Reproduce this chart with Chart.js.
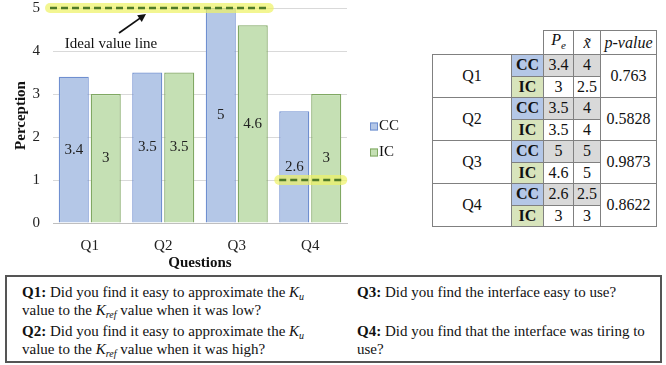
<!DOCTYPE html>
<html>
<head>
<meta charset="utf-8">
<script src="https://cdn.jsdelivr.net/npm/chart.js@4.4.1/dist/chart.umd.min.js"></script>
<style>
  body { margin: 0; background: #fff; font-family: "Liberation Serif", "Times New Roman", serif; color: #111; }
  #wrap { position: relative; width: 666px; height: 365px; overflow: hidden; }
  #perception-chart { position: absolute; left: 0; top: -14px; }
  #stats { position: absolute; left: 432px; top: 30px; border-collapse: collapse; font-size: 16px; table-layout: fixed; }
  #stats td { border: 1px solid #808080; text-align: center; padding: 0; height: 20.5px; line-height: 18px; }
  #stats td.blank { border: none; }
  #stats td.head { font-style: italic; }
  #stats td.cc { background: #b4c7e7; font-weight: bold; }
  #stats td.ic { background: #d8e4bc; font-weight: bold; }
  #stats td.grey { background: #d9d9d9; }
  #stats sub { font-size: 11px; }
  #notes { position: absolute; left: 5px; top: 275px; width: 657px; height: 88px; border: 2px solid #555; box-sizing: border-box; font-size: 15px; }
  #notes div { position: absolute; line-height: 18px; white-space: nowrap; }
  #notes sub { font-size: 10px; font-style: italic; vertical-align: baseline; position: relative; top: 3px; line-height: 0; }
</style>
</head>
<body>
<div id="wrap">
  <canvas id="perception-chart" width="410" height="286"></canvas>
  <table id="stats"></table>
  <div id="notes"></div>
</div>
<script>
// chart data
const questions = ['Q1', 'Q2', 'Q3', 'Q4'];
const ccValues = [3.4, 3.5, 5, 2.6];
const icValues = [3, 3.5, 4.6, 3];
const yMin = 0;
const yMax = 5;

// table data
const ccMedian = [4, 4, 5, 2.5];
const icMedian = [2.5, 4, 5, 3];
const pValues = ['0.763', '0.5828', '0.9873', '0.8622'];

// ideal value lines: value and first/last question index
const idealLines = [
  { value: 5, first: 0, last: 2 },
  { value: 1, first: 3, last: 3 }
];

const notes = [
  { label: 'Q1:', text: 'Did you find it easy to approximate the <i>K</i><sub>u</sub><br>value to the <i>K</i><sub>ref</sub> value when it was low?' },
  { label: 'Q2:', text: 'Did you find it easy to approximate the <i>K</i><sub>u</sub><br>value to the <i>K</i><sub>ref</sub> value when it was high?' },
  { label: 'Q3:', text: 'Did you find the interface easy to use?' },
  { label: 'Q4:', text: 'Did you find that the interface was tiring to<br>use?' }
];

const serif = '"Liberation Serif", "Times New Roman", serif';

// value labels in the middle of each bar
const barLabels = {
  id: 'barLabels',
  afterDatasetsDraw(chart) {
    const ctx = chart.ctx;
    ctx.save();
    ctx.font = '15px ' + serif;
    ctx.fillStyle = '#222';
    ctx.textAlign = 'center';
    ctx.textBaseline = 'middle';
    chart.data.datasets.forEach((ds, i) => {
      chart.getDatasetMeta(i).data.forEach((bar, j) => {
        ctx.fillText(String(ds.data[j]), bar.x, (bar.y + bar.base) / 2);
      });
    });
    ctx.restore();
  }
};

// dashed "ideal value" lines with yellow highlight + arrow note
const idealMarks = {
  id: 'idealMarks',
  afterDatasetsDraw(chart) {
    const ctx = chart.ctx;
    const y = chart.scales.y;
    const area = chart.chartArea;
    const cc = chart.getDatasetMeta(0).data;
    const ic = chart.getDatasetMeta(1).data;
    ctx.save();
    idealLines.forEach(line => {
      const a = cc[line.first], b = ic[line.last];
      let x0 = a.x - a.width / 2;
      if (line.first === 0) x0 = area.left - 3;
      const x1 = b.x + b.width / 2 + 1;
      const py = y.getPixelForValue(line.value);
      ctx.setLineDash([]);
      ctx.lineCap = 'round';
      ctx.strokeStyle = 'rgba(238, 242, 100, 0.7)';
      ctx.lineWidth = 10;
      ctx.beginPath(); ctx.moveTo(x0, py); ctx.lineTo(x1, py); ctx.stroke();
      ctx.lineCap = 'butt';
      ctx.setLineDash([7, 4]);
      ctx.strokeStyle = '#4f7a28';
      ctx.lineWidth = 2.5;
      ctx.beginPath(); ctx.moveTo(x0, py); ctx.lineTo(x1, py); ctx.stroke();
    });
    // note text + arrow
    ctx.setLineDash([]);
    const tx = area.left + 58;
    const ty = y.getPixelForValue(4) - 7;
    ctx.font = '15px ' + serif;
    ctx.fillStyle = '#111';
    ctx.textAlign = 'center';
    ctx.textBaseline = 'middle';
    ctx.fillText('Ideal value line', tx, ty);
    const sx = tx + 8, sy = ty - 11;
    const ex = tx + 35, ey = y.getPixelForValue(5) + 6;
    const ang = Math.atan2(ey - sy, ex - sx);
    ctx.strokeStyle = '#111';
    ctx.lineWidth = 1.8;
    ctx.beginPath(); ctx.moveTo(sx, sy); ctx.lineTo(ex - 5 * Math.cos(ang), ey - 5 * Math.sin(ang)); ctx.stroke();
    ctx.fillStyle = '#111';
    ctx.beginPath();
    ctx.moveTo(ex, ey);
    ctx.lineTo(ex - 8 * Math.cos(ang) + 4 * Math.sin(ang), ey - 8 * Math.sin(ang) - 4 * Math.cos(ang));
    ctx.lineTo(ex - 8 * Math.cos(ang) - 4 * Math.sin(ang), ey - 8 * Math.sin(ang) + 4 * Math.cos(ang));
    ctx.closePath();
    ctx.fill();
    ctx.restore();
  }
};

// small legend to the right of the plot
const sideLegend = {
  id: 'sideLegend',
  afterDraw(chart) {
    const ctx = chart.ctx;
    const area = chart.chartArea;
    const mid = (area.top + area.bottom) / 2 + 24;
    ctx.save();
    ctx.font = '15px ' + serif;
    ctx.textAlign = 'left';
    ctx.textBaseline = 'middle';
    chart.data.datasets.forEach((ds, i) => {
      const cy = mid + (i === 0 ? -13 : 13);
      const bx = area.right + 23;
      ctx.fillStyle = ds.backgroundColor;
      ctx.strokeStyle = ds.borderColor;
      ctx.lineWidth = 1;
      ctx.fillRect(bx, cy - 4, 8, 8);
      ctx.strokeRect(bx + 0.5, cy - 3.5, 7, 7);
      ctx.fillStyle = '#111';
      ctx.fillText(ds.label, bx + 9, cy);
    });
    ctx.restore();
  }
};

const ctx = document.getElementById('perception-chart').getContext('2d');
new Chart(ctx, {
  type: 'bar',
  data: {
    labels: questions,
    datasets: [
      { label: 'CC', data: ccValues, backgroundColor: '#b4c7e7', borderColor: '#6f8fd0', borderWidth: 1.3,
        categoryPercentage: 0.87, barPercentage: 0.94 },
      { label: 'IC', data: icValues, backgroundColor: '#c5e0b4', borderColor: '#80a863', borderWidth: 1.3,
        categoryPercentage: 0.87, barPercentage: 0.94 }
    ]
  },
  options: {
    responsive: false,
    animation: false,
    devicePixelRatio: 1,
    layout: { padding: { top: 8, right: 63, bottom: 0, left: 0 } },
    plugins: { legend: { display: false }, tooltip: { enabled: false } },
    scales: {
      x: {
        grid: { display: false },
        border: { color: '#bfbfbf' },
        ticks: { color: '#222', font: { family: serif, size: 15 }, padding: 6 },
        title: { display: true, text: 'Questions', color: '#111', font: { family: serif, size: 15, weight: 'bold' }, padding: 0 },
        afterFit(scale) { scale.height = 49; }
      },
      y: {
        min: yMin,
        max: yMax,
        grid: { color: '#d9d9d9', drawTicks: false },
        border: { display: false },
        ticks: { stepSize: 1, color: '#222', font: { family: serif, size: 15 }, padding: 13 },
        title: { display: true, text: 'Perception', color: '#111', font: { family: serif, size: 15, weight: 'bold' }, padding: { top: 12, bottom: 0 } },
        afterFit(scale) { scale.width = 53; }
      }
    }
  },
  plugins: [barLabels, idealMarks, sideLegend]
});

// statistics table
const table = document.getElementById('stats');
const colWidths = [79, 32, 30, 27, 56];
let html = '<colgroup>' + colWidths.map(w => '<col style="width:' + w + 'px">').join('') + '</colgroup>';
html += '<tr><td class="blank" colspan="2"></td><td class="head"><i>P</i><sub><i>e</i></sub></td>' +
        '<td class="head"><i>x&#771;</i></td><td class="head">p-value</td></tr>';
questions.forEach((q, i) => {
  html += '<tr><td rowspan="2">' + q + '</td><td class="cc">CC</td>' +
          '<td class="grey">' + ccValues[i] + '</td><td class="grey">' + ccMedian[i] + '</td>' +
          '<td rowspan="2">' + pValues[i] + '</td></tr>';
  html += '<tr><td class="ic">IC</td><td>' + icValues[i] + '</td><td>' + icMedian[i] + '</td></tr>';
});
table.innerHTML = html;

// question notes box
const noteBox = document.getElementById('notes');
const notePos = [[15, 6], [15, 45], [350, 6], [350, 45]];
notes.forEach((n, i) => {
  const d = document.createElement('div');
  d.style.left = notePos[i][0] + 'px';
  d.style.top = notePos[i][1] + 'px';
  d.innerHTML = '<b>' + n.label + '</b> ' + n.text;
  noteBox.appendChild(d);
});
</script>
</body>
</html>
